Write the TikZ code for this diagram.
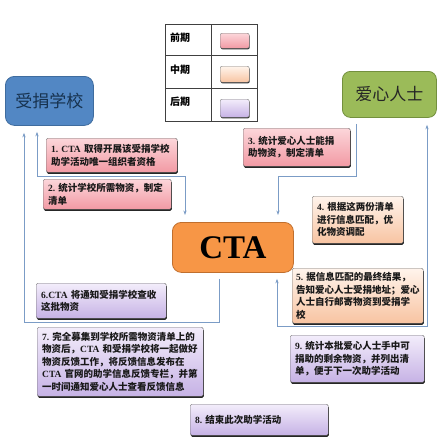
\documentclass[tikz,border=0pt]{standalone}
\usepackage{fontspec}
\setmainfont{Noto Sans CJK SC}
\newfontfamily\latfont{Liberation Serif}
\usetikzlibrary{arrows.meta,shadows}
\definecolor{pinkT}{HTML}{FCD6DA}
\definecolor{pinkB}{HTML}{F29AA4}
\definecolor{peachT}{HTML}{FFF4EC}
\definecolor{peachB}{HTML}{F8C4A2}
\definecolor{lavT}{HTML}{F3EDFB}
\definecolor{lavB}{HTML}{C6B2E5}
\definecolor{schoolblue}{HTML}{5287C4}
\definecolor{schoolborder}{HTML}{3F6C9E}
\definecolor{schooltext}{HTML}{17324F}
\definecolor{donorgreen}{HTML}{9BBB59}
\definecolor{donorborder}{HTML}{73903E}
\definecolor{ctaorange}{HTML}{F79646}
\definecolor{ctaborder}{HTML}{C06F2E}
\definecolor{connblue}{HTML}{7B9CC6}
\newcommand\E[1]{{\latfont\bfseries #1}}
\begin{document}
\begin{tikzpicture}[x=1pt,y=-1pt,
  stepbox/.style={draw=black!55, line width=0.4pt, rounded corners=1.5pt,
    drop shadow={shadow xshift=0.6pt, shadow yshift=-1.6pt, fill=black!85, opacity=1},
    font=\bfseries\fontsize{9.5}{12.6}\selectfont, align=left, anchor=north west,
    inner ysep=0pt, inner xsep=5pt, text=black!90},
  pinkbox/.style={stepbox, top color=pinkT, bottom color=pinkB},
  peachbox/.style={stepbox, top color=peachT, bottom color=peachB},
  lavbox/.style={stepbox, top color=lavT, bottom color=lavB},
  swatch/.style={draw=black!50, line width=0.4pt, rounded corners=2pt,
    drop shadow={shadow xshift=0.5pt, shadow yshift=-1.2pt, fill=black!80, opacity=1},
    minimum width=29pt, anchor=north west, inner sep=0pt},
  legtext/.style={font=\bfseries\fontsize{10}{12}\selectfont, anchor=west, inner sep=0pt},
  mainbox/.style={line width=0.8pt, rounded corners=9pt, anchor=north west, inner sep=0pt},
  conn/.style={draw=connblue, line width=0.9pt, shorten <=6pt, shorten >=7pt},
  tip/.style={-{Stealth[length=4.5pt,width=3.2pt]}},
  bitip/.style={{Stealth[length=4.5pt,width=3.2pt]}-{Stealth[length=4.5pt,width=3.2pt]}}
]
\useasboundingbox (0,0) rectangle (443,440);
\fill[white] (0,0) rectangle (443,440);

% legend
\draw[black!75, line width=0.7pt] (165,24) rectangle (257,121);
\draw[black!75, line width=0.7pt] (165,55) -- (257,55);
\draw[black!75, line width=0.7pt] (165,88) -- (257,88);
\draw[black!75, line width=0.7pt] (211,24) -- (211,121);
\node[legtext] (lg1) at (170,38) {前期};
\node[legtext] (lg2) at (170,70) {中期};
\node[legtext] (lg3) at (170,102) {后期};
\node[swatch, top color=pinkT, bottom color=pinkB, minimum height=15pt] (sw1) at (220,33) {};
\node[swatch, top color=peachT, bottom color=peachB, minimum height=16pt] (sw2) at (220,66) {};
\node[swatch, top color=lavT, bottom color=lavB, minimum height=18pt] (sw3) at (220,99) {};

% main boxes
\node[mainbox, fill=schoolblue, draw=schoolborder, minimum width=88pt, minimum height=49pt,
  text=schooltext, font=\fontsize{17}{17}\selectfont] (school) at (5,76) {受捐学校};
\node[mainbox, rounded corners=8pt, fill=donorgreen, draw=donorborder, minimum width=94pt, minimum height=46pt,
  text=black!85, font=\fontsize{17}{17}\selectfont] (donor) at (342,71) {爱心人士};
\node[mainbox, fill=ctaorange, draw=ctaborder, minimum width=121pt, minimum height=50pt,
  text=black, font=\latfont\bfseries\fontsize{33}{33}\selectfont] (cta) at (172,222) {CTA};

% step boxes
\node[pinkbox, minimum width=131pt, minimum height=34pt, text width=121pt] (s1) at (46,138)
  {\E{1.~CTA}~取得开展该受捐学校\\助学活动唯一组织者资格};
\node[pinkbox, minimum width=128pt, minimum height=30pt, text width=118pt] (s2) at (43,179)
  {\E{2.}~统计学校所需物资，制定\\清单};
\node[pinkbox, minimum width=107pt, minimum height=38pt, text width=97pt] (s3) at (243,128)
  {\E{3.}~统计爱心人士能捐\\助物资，制定清单};
\node[peachbox, minimum width=91pt, minimum height=47pt, text width=81pt] (s4) at (312,196)
  {\E{4.}~根据这两份清单\\进行信息匹配，优\\化物资调配};
\node[peachbox, minimum width=131pt, minimum height=55pt, text width=123pt, inner xsep=4pt] (s5) at (292,268)
  {\E{5.}~据信息匹配的最终结果，\\告知爱心人士受捐地址；爱心\\人士自行邮寄物资到受捐学\\校};
\node[lavbox, minimum width=130pt, minimum height=35pt, text width=120pt] (s6) at (36,283)
  {\E{6.CTA}~将通知受捐学校查收\\这批物资};
\node[lavbox, minimum width=166pt, minimum height=69pt, text width=156pt] (s7) at (37,327)
  {\E{7.}~完全募集到学校所需物资清单上的\\物资后，\E{CTA}~和受捐学校将一起做好\\物资反馈工作，将反馈信息发布在\\\E{CTA}~官网的助学信息反馈专栏，并第\\一时间通知爱心人士查看反馈信息};
\node[lavbox, minimum width=134pt, minimum height=47pt, text width=124pt] (s9) at (290,335)
  {\E{9.}~统计本批爱心人士手中可\\捐助的剩余物资，并列出清\\单，便于下一次助学活动};
\node[lavbox, minimum width=138pt, minimum height=31pt, text width=128pt] (s8) at (190,404)
  {\E{8.}~结束此次助学活动};

% connectors
\coordinate (l1a) at (219,322);
\coordinate (l1b) at (24,322);
\coordinate (l2a) at (37,176);
\coordinate (l2b) at (185,176);
\coordinate (r1a) at (356,176);
\coordinate (r1b) at (278,176);
\coordinate (r2a) at (277,326);
\coordinate (r2b) at (427,326);
\draw[conn, tip] (cta.south -| l1a) -- (l1a) -- (l1b) -- (school.south -| l1b);
\draw[conn, bitip] (school.south -| l2a) -- (l2a) -- (l2b) -- (cta.north -| l2b);
\draw[conn, tip] (donor.south -| r1a) -- (r1a) -- (r1b) -- (cta.north -| r1b);
\draw[conn, bitip] (cta.south -| r2a) -- (r2a) -- (r2b) -- (donor.south -| r2b);
\end{tikzpicture}
\end{document}
